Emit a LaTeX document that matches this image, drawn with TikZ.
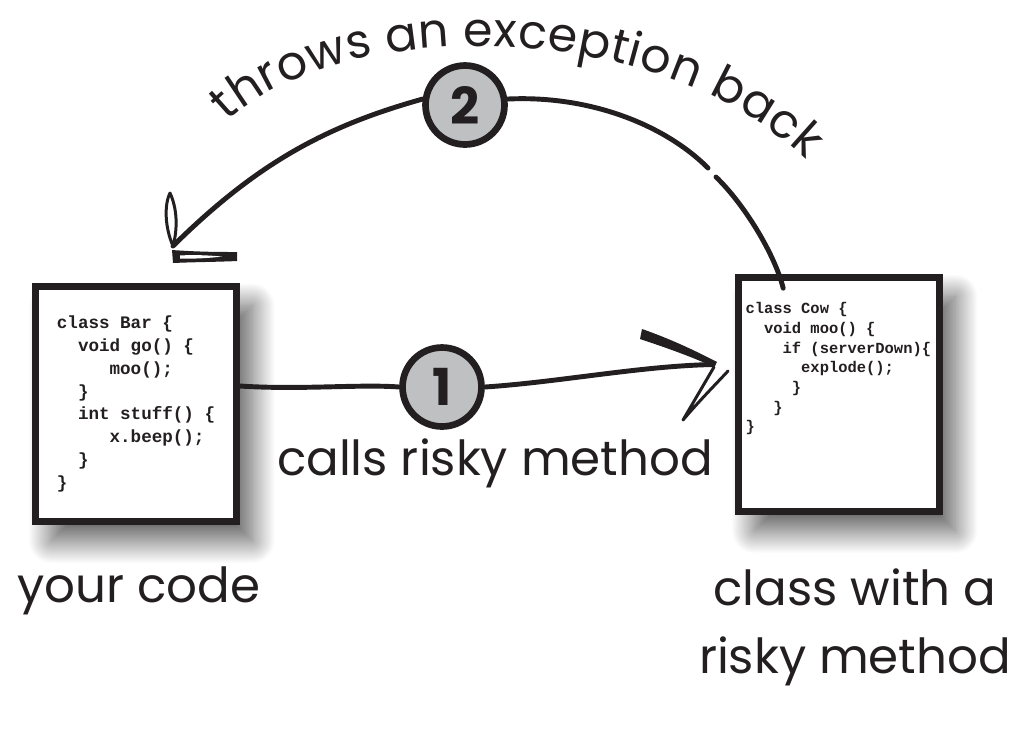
\documentclass[tikz,border=0pt]{standalone}
\usepackage{fontspec}
\setmainfont{Poppins}
\setmonofont{Liberation Mono}
\usetikzlibrary{calc,shadows.blur,decorations.text}

\definecolor{ink}{HTML}{231F20}
\definecolor{badgegray}{HTML}{BFC0C2}

\tikzset{
  codebox/.style={draw=ink, line width=3.8pt, fill=white, minimum width=4.02cm,
    blur shadow={shadow xshift=9pt, shadow yshift=-11pt, shadow blur radius=13pt,
      shadow blur steps=40, shadow opacity=65}},
  bigcode/.style={font=\ttfamily\bfseries\fontsize{10}{13}\selectfont, align=left, inner sep=0pt, text=ink},
  smallcode/.style={font=\ttfamily\bfseries\fontsize{8.8}{11.2}\selectfont, align=left, inner sep=0pt, text=ink},
  badge/.style={circle, draw=ink, line width=3.8pt, fill=badgegray, minimum size=1.58cm, inner sep=0pt,
    font=\bfseries\fontsize{29}{29}\selectfont, text=ink},
  caption/.style={font=\fontsize{27.5}{38.5}\selectfont, text=ink, align=center},
  wire/.style={draw=ink, line width=2.8pt, line cap=round},
  stroke/.style={draw=ink, line width=1.7pt, line join=round, line cap=round},
}

\begin{document}
\begin{tikzpicture}[x=0.02cm, y=-0.02cm]
    \useasboundingbox (0,0) rectangle (1033,745);

    % the two pieces of code
    \node[codebox, minimum height=4.7cm] (bar) at (136,404) {};
    \node[bigcode] (barsrc) at (bar.center) {class Bar \{\\
\phantom{xx}void go() \{\\
\phantom{xxxxx}moo();\\
\phantom{xx}\}\\
\phantom{xx}int stuff() \{\\
\phantom{xxxxx}x.beep();\\
\phantom{xx}\}\\
\}};

    \node[codebox, minimum height=4.68cm] (cow) at (839,394.5) {};
    \node[smallcode, anchor=north west] (cowsrc) at ($(cow.north west)+(10,28)$) {class Cow \{\\
\phantom{xx}void moo() \{\\
\phantom{xxxx}if (serverDown)\{\\
\phantom{xxxxxx}explode();\\
\phantom{xxxxx}\}\\
\phantom{xxx}\}\\
\}};

    % numbered steps
    \node[badge] (one) at (442,387) {1};
    \node[badge] (two) at (465,105) {2};

    % captions
    \node[caption, anchor=base] (yours) at (139,602) {your code};
    \node[caption, anchor=base] (calls) at (495,475) {calls risky method};
    \node[caption, anchor=north] (risky) at (855,563) {class with a\\risky method};

    % step 1: the call
    \coordinate (tipone) at ($(cow.west)+(-22,-30)$);
    \draw[wire] ($(bar.east)+(0,-18)$) .. controls (300,390) and (360,384) .. (one.west);
    \draw[wire] (one.east) .. controls (560,382) and (640,366) .. (tipone);
    \fill[ink] (642,329) .. controls (668,338) and (694,350) .. (717,362)
        -- (714,367) .. controls (690,356) and (664,347) .. (640,339) -- cycle;
    \draw[stroke] (714,367) -- (683,420) .. controls (700,400) and (715,385) .. (728,371);

    % step 2: the exception comes back
    \coordinate (tiptwo) at (173,246);
    \coordinate (gapa) at (708,168);
    \coordinate (gapb) at (716,177);
    \coordinate (cowtop) at ($(cow.north west)+(48,14)$);
    \draw[wire] (two.172) .. controls (330,125) and (260,160) .. (tiptwo);
    \draw[wire] (two.8) .. controls (590,95) and (665,125) .. (gapa);
    \draw[wire] (gapb) .. controls (745,205) and (775,255) .. (cowtop);
    \draw[stroke] (tiptwo) .. controls (165,228) and (164,205) .. (170,193)
        .. controls (177,208) and (178,228) .. (tiptwo);
    \fill[ink] (172,250) .. controls (200,252) and (220,252) .. (237,252)
        -- (237,261) .. controls (215,262) and (195,262) .. (173,263) -- cycle;
    \fill[white] (180,255.5) .. controls (195,254.5) and (210,255.5) .. (222,256.5)
        .. controls (210,258) and (195,259) .. (180,258.5) -- cycle;

    % the label bent over the return arc
    \path[decorate, decoration={text along path, text align={fit to path}, text color=ink,
        text={|\fontsize{27}{27}\selectfont|throws an exception back}}]
        (228,122) .. controls (330,20) and (650,10) .. (806,160);
\end{tikzpicture}
\end{document}
